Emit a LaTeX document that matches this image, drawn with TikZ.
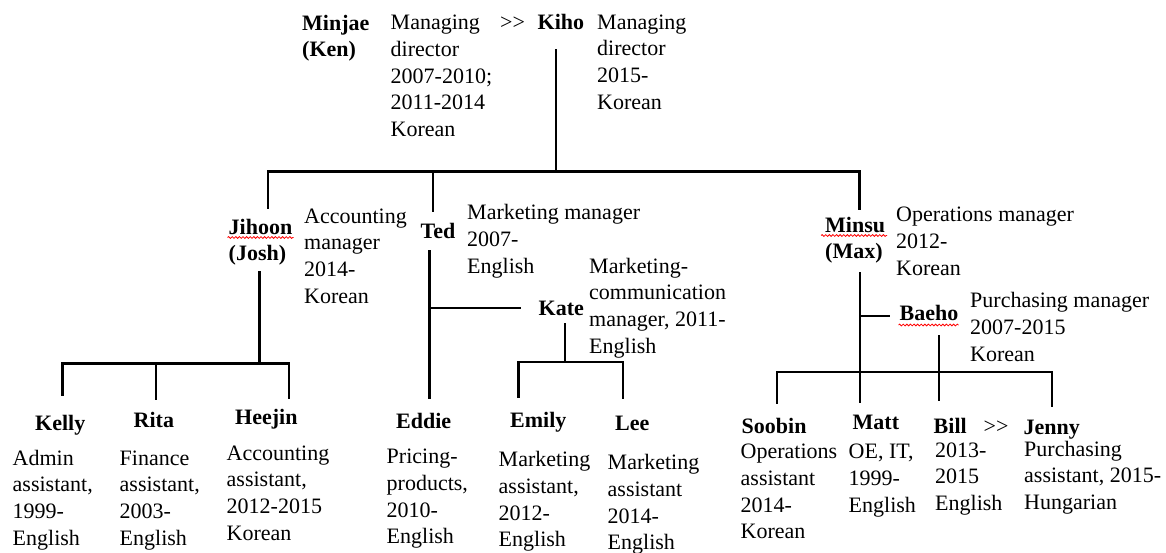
\documentclass[tikz,border=0pt]{standalone}
\usepackage{fontspec}
\setmainfont{Liberation Serif}[Ligatures=TeXOff]
\usetikzlibrary{decorations.pathmorphing,calc}
\newcommand\mystrut{\rule{0pt}{18pt}}
\begin{document}
\begin{tikzpicture}[x=1pt,y=-1pt,
  txt/.style={anchor=north west, inner sep=0pt, yshift=18pt, align=left,
    font=\fontsize{22}{26.7}\selectfont},
  nm/.style={txt, font=\fontsize{22}{26.7}\selectfont\bfseries},
  ln/.style={line width=2.6pt, line cap=rect},
  wavy/.style={red, line width=0.8pt, decorate,
    decoration={snake, amplitude=0.9pt, segment length=3.6pt}}]
\fill[white] (0,0) rectangle (1166,553);
\useasboundingbox (0,0) rectangle (1166,553);

% ---- top level
\node[nm]  (minjae)  at (302,30)    {\mystrut Minjae\\(Ken)};
\node[txt] (minjaeD) at (390.5,29.5){\mystrut Managing\\director\\2007-2010;\\2011-2014\\Korean};
\node[txt] (succA)   at (500,29.5)  {\mystrut >>};
\node[nm]  (kiho)    at (537.5,29)  {\mystrut Kiho};
\node[txt] (kihoD)   at (597,29)    {\mystrut Managing\\director\\2015-\\Korean};

% ---- managers
\node[nm]  (jihoon)  at (228.5,234) {\mystrut Jihoon\\(Josh)};
\node[txt] (jihoonD) at (304,223)   {\mystrut Accounting\\manager\\2014-\\Korean};
\node[nm]  (ted)     at (420.5,238.5){\mystrut Ted};
\node[txt] (tedD)    at (467,219.5) {\mystrut Marketing manager\\2007-\\English};
\node[nm]  (kate)    at (538.5,315) {\mystrut Kate};
\node[txt] (kateD)   at (589,273)   {\mystrut Marketing-\\communication\\manager, 2011-\\English};
\node[nm]  (minsu)   at (825,232)   {\mystrut Minsu\\(Max)};
\node[txt] (minsuD)  at (896,221.5) {\mystrut Operations manager\\2012-\\Korean};
\node[nm]  (baeho)   at (899.5,320) {\mystrut Baeho};
\node[txt] (baehoD)  at (970,307.5) {\mystrut Purchasing manager\\2007-2015\\Korean};

% ---- staff
\node[nm]  (kelly)   at (35,430)    {\mystrut Kelly};
\node[txt] (kellyD)  at (12.5,465)  {\mystrut Admin\\assistant,\\1999-\\English};
\node[nm]  (rita)    at (133.5,427.5){\mystrut Rita};
\node[txt] (ritaD)   at (119.5,465) {\mystrut Finance\\assistant,\\2003-\\English};
\node[nm]  (heejin)  at (235,424)   {\mystrut Heejin};
\node[txt] (heejinD) at (226.5,460) {\mystrut Accounting\\assistant,\\2012-2015\\Korean};
\node[nm]  (eddie)   at (396,428.5) {\mystrut Eddie};
\node[txt] (eddieD)  at (386.5,463.5){\mystrut Pricing-\\products,\\2010-\\English};
\node[nm]  (emily)   at (510,427.5) {\mystrut Emily};
\node[txt] (emilyD)  at (498.5,466.5){\mystrut Marketing\\assistant,\\2012-\\English};
\node[nm]  (lee)     at (615,430.5) {\mystrut Lee};
\node[txt] (leeD)    at (607.5,469.5){\mystrut Marketing\\assistant\\2014-\\English};
\node[nm]  (soobin)  at (741.5,433.5){\mystrut Soobin};
\node[txt] (soobinD) at (740.5,458.5){\mystrut Operations\\assistant\\2014-\\Korean};
\node[nm]  (matt)    at (852.5,429.5){\mystrut Matt};
\node[txt] (mattD)   at (848.5,458.5){\mystrut OE, IT,\\1999-\\English};
\node[nm]  (bill)    at (933.5,433.5){\mystrut Bill};
\node[txt] (succB)   at (983.5,433) {\mystrut >>};
\node[nm]  (jenny)   at (1023.5,434){\mystrut Jenny};
\node[txt] (billD)   at (935,457)   {\mystrut 2013-\\2015\\English};
\node[txt] (jennyD)  at (1024,456)  {\mystrut Purchasing\\assistant, 2015-\\Hungarian};

% ---- spell-check underlines
\draw[wavy] ($(jihoon.north west)+(-1,21.5)$) -- ++(66,0);
\draw[wavy] ($(minsu.north west)+(-4,21.5)$) -- ++(66,0);
\draw[wavy] ($(baeho.north west)+(-1,23)$) -- ++(60,0);

% ---- connector coordinates
\coordinate (kihoB)   at (556,50);
\coordinate (barL)    at (268,171.5);
\coordinate (barM)    at (433,171.5);
\coordinate (barK)    at (556,171.5);
\coordinate (barR)    at (859.5,171.5);
\coordinate (jihoonT) at (268,208);
\coordinate (tedT)    at (433,211);
\coordinate (minsuT)  at (859.5,209);

\coordinate (jihoonB) at (259.5,272);
\coordinate (jbar)    at (259.5,363.5);
\coordinate (jbarL)   at (62.5,363.5);
\coordinate (jbarM)   at (156,363.5);
\coordinate (jbarR)   at (289,363.5);
\coordinate (kellyT)  at (62.5,395);
\coordinate (ritaT)   at (156,399);
\coordinate (heejinT) at (289,398);

\coordinate (tedB)    at (429.5,251);
\coordinate (tedK)    at (429.5,308);
\coordinate (kateL)   at (520,308);
\coordinate (eddieT)  at (429.5,398);
\coordinate (kateB)   at (565,324);
\coordinate (kbar)    at (565,362);
\coordinate (kbarL)   at (518.5,362);
\coordinate (kbarR)   at (623,362);
\coordinate (emilyT)  at (518.5,397);
\coordinate (leeT)    at (623,398);

\coordinate (minsuB)  at (860,273);
\coordinate (minsuK)  at (860,316);
\coordinate (baehoL)  at (889,316);
\coordinate (mattT)   at (860,402);
\coordinate (baehoB)  at (939,336);
\coordinate (obarL)   at (777,372);
\coordinate (obarR)   at (1052,372);
\coordinate (billT)   at (939,400);
\coordinate (soobinT) at (777,403);
\coordinate (jennyT)  at (1052,406);

% ---- connectors
\draw[ln] (kihoB) -- (barK);
\draw[ln] (barL) -- (barR);
\draw[ln] (barL) -- (jihoonT);
\draw[ln] (barM) -- (tedT);
\draw[ln] (barR) -- (minsuT);

\draw[ln] (jihoonB) -- (jbar);
\draw[ln] (jbarL) -- (jbarR);
\draw[ln] (jbarL) -- (kellyT);
\draw[ln] (jbarM) -- (ritaT);
\draw[ln] (jbarR) -- (heejinT);

\draw[ln] (tedB) -- (eddieT);
\draw[ln] (tedK) -- (kateL);
\draw[ln] (kateB) -- (kbar);
\draw[ln] (kbarL) -- (kbarR);
\draw[ln] (kbarL) -- (emilyT);
\draw[ln] (kbarR) -- (leeT);

\draw[ln] (minsuB) -- (mattT);
\draw[ln] (minsuK) -- (baehoL);
\draw[ln] (baehoB) -- (billT);
\draw[ln] (obarL) -- (obarR);
\draw[ln] (obarL) -- (soobinT);
\draw[ln] (obarR) -- (jennyT);
\end{tikzpicture}
\end{document}
